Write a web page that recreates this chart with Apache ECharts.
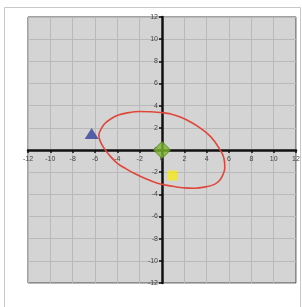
<!DOCTYPE html>
<html>
<head>
<meta charset="utf-8">
<script src="https://cdn.jsdelivr.net/npm/echarts@6/dist/echarts.min.js"></script>
<style>
html,body{margin:0;padding:0;background:#fff;}
#main{width:302px;height:307px;}
</style>
</head>
<body>
<div id="main"></div>
<script>
// axis titles
var xName = 'd Sparkle area 15°';
var yName = 'd Sparkle intensity 15°';
// markers
var triangleData = [[-6.3, 1.5]];
var diamondData = [[0, 0]];
var squareData = [[0.9, -2.3]];
// ellipse outline
var ellipseData = [
    [-1.0, 3.45], [-0.1, 3.38], [0.8, 3.25], [1.7, 2.95], [2.6, 2.5],
    [3.4, 2.0], [4.1, 1.45], [4.7, 0.8], [5.15, 0.1], [5.45, -0.45],
    [5.6, -1.05], [5.62, -1.7], [5.45, -2.25], [5.15, -2.75], [4.7, -3.1],
    [3.8, -3.35], [2.9, -3.45], [2.0, -3.42], [1.1, -3.3], [0.35, -3.17],
    [-0.4, -3.0], [-1.45, -2.6], [-2.5, -2.1], [-3.25, -1.68], [-4.0, -1.2],
    [-4.6, -0.6], [-5.15, 0.1], [-5.42, 0.55], [-5.6, 1.0], [-5.65, 1.3],
    [-5.6, 1.6], [-5.2, 2.3], [-4.6, 2.8], [-3.9, 3.15], [-3.1, 3.35],
    [-2.0, 3.47], [-1.0, 3.45]
];

var myChart = echarts.init(document.getElementById('main'));
var option = {
    backgroundColor: '#fff',
    animation: false,
    graphic: [{
        type: 'rect',
        shape: {x: 4.5, y: 7.5, width: 296, height: 310},
        style: {fill: 'none', stroke: '#c8c8c8', lineWidth: 1}
    }],
    grid: {
        left: 28, right: 6, top: 17, bottom: 24,
        containLabel: false,
        outerBoundsMode: 'none',
        show: true,
        backgroundColor: '#d4d4d4',
        borderColor: '#444',
        borderWidth: 1
    },
    xAxis: {
        type: 'value',
        min: -12, max: 12, interval: 2,
        name: xName,
        nameLocation: 'middle',
        nameGap: 146,
        nameTextStyle: {fontFamily: 'Open Sans', fontSize: 11, color: '#333'},
        axisLine: {onZero: true, lineStyle: {color: '#111', width: 2.5}},
        axisTick: {show: true, length: 3, inside: false, lineStyle: {color: '#111', width: 1.5}},
        axisLabel: {fontSize: 7, color: '#444', margin: -127, showMinLabel: true, showMaxLabel: true},
        splitLine: {show: true, lineStyle: {color: '#b9b9b9', width: 1}}
    },
    yAxis: {
        type: 'value',
        min: -12, max: 12, interval: 2,
        name: yName,
        nameLocation: 'middle',
        nameGap: 148,
        nameRotate: 90,
        nameTextStyle: {fontFamily: 'Open Sans', fontSize: 11, color: '#333'},
        axisLine: {onZero: true, lineStyle: {color: '#111', width: 2.5}},
        axisTick: {show: true, length: 3, lineStyle: {color: '#111', width: 1.5}},
        axisLabel: {fontSize: 7, color: '#444', margin: -130, showMinLabel: true, showMaxLabel: true},
        splitLine: {show: true, lineStyle: {color: '#b9b9b9', width: 1}}
    },
    series: [
        {
            type: 'line',
            data: ellipseData,
            smooth: 0.3,
            symbol: 'none',
            lineStyle: {color: '#e0463a', width: 1.6},
            z: 3
        },
        {
            type: 'scatter',
            data: triangleData,
            symbol: 'triangle',
            symbolSize: [14, 11],
            itemStyle: {color: '#34419c'},
            z: 4
        },
        {
            type: 'scatter',
            data: diamondData,
            symbol: 'diamond',
            symbolSize: [17, 17],
            itemStyle: {color: '#7bb62f', borderColor: '#4d7a1c', borderWidth: 1},
            z: 5
        },
        {
            type: 'scatter',
            data: squareData,
            symbol: 'rect',
            symbolSize: [10, 10],
            itemStyle: {color: '#f4ea19'},
            z: 4
        }
    ]
};
myChart.setOption(option);
</script>
</body>
</html>
